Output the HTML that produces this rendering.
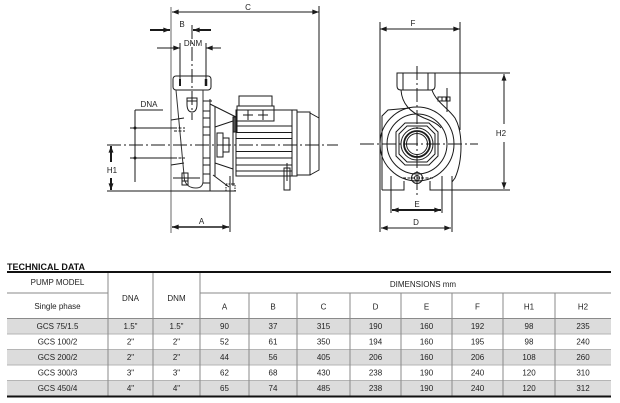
<!DOCTYPE html>
<html><head><meta charset="utf-8"><style>
html,body{margin:0;padding:0;background:#fff;width:620px;height:403px;overflow:hidden}
svg{display:block}
text{font-family:"Liberation Sans",Arial,sans-serif;font-size:8px;fill:#222}
</style></head><body>
<svg width="620" height="403" viewBox="0 0 620 403" xmlns="http://www.w3.org/2000/svg">
<defs>
<marker id="ar" viewBox="0 0 8 6" refX="8" refY="3" markerWidth="7" markerHeight="5" orient="auto-start-reverse" markerUnits="userSpaceOnUse"><path d="M0,0 L8,3 L0,6 z" fill="#1a1a1a"/></marker>
</defs>
<rect width="620" height="403" fill="#fff"/>

<!-- ================= LEFT VIEW ================= -->
<g stroke="#1a1a1a" stroke-width="1" fill="none">
  <!-- reference line -->
  <line x1="171" y1="7" x2="171" y2="233" stroke="#9a9a9a" stroke-width="1.5"/>
  <!-- C -->
  <line x1="172" y1="12" x2="319" y2="12" marker-start="url(#ar)" marker-end="url(#ar)"/>
  <line x1="319" y1="6" x2="319" y2="118"/>
  <!-- B -->
  <line x1="150" y1="30" x2="170" y2="30" stroke-width="2" marker-end="url(#ar)"/>
  <line x1="211" y1="30" x2="193" y2="30" stroke-width="2" marker-end="url(#ar)"/>
  <line x1="192" y1="25" x2="192" y2="120" stroke-dasharray="14 3 2 3"/>
  <!-- DNM -->
  <line x1="157" y1="48" x2="180" y2="48" marker-end="url(#ar)"/>
  <line x1="221" y1="48" x2="206" y2="48" marker-end="url(#ar)"/>
  <line x1="180" y1="43" x2="180" y2="84"/>
  <line x1="206" y1="43" x2="206" y2="84"/>
  <!-- outlet flange -->
  <rect x="173" y="76" width="38" height="14" rx="3"/>
  <line x1="180" y1="79" x2="180" y2="86" stroke-width="2"/>
  <line x1="206" y1="79" x2="206" y2="86" stroke-width="2.5"/>
  <!-- neck -->
  <path d="M176,90 L184.5,180 Q187,188 196,188 Q203,188 203,181 L203,90" stroke="#333"/>
  <!-- drain plug top -->
  <path d="M187,98 L197,98 L197,104 Q197,112 192,112 Q187,112 187,104 Z"/>
  <line x1="187" y1="101" x2="197" y2="101"/>
  <!-- ladder -->
  <line x1="210" y1="99" x2="210" y2="191"/>
  <line x1="203" y1="101" x2="212" y2="101"/>
  <line x1="203" y1="111" x2="210" y2="111"/>
  <line x1="203" y1="118" x2="210" y2="118"/>
  <line x1="203" y1="127" x2="210" y2="127"/>
  <line x1="203" y1="135" x2="210" y2="135"/>
  <line x1="203" y1="158" x2="210" y2="158"/>
  <line x1="203" y1="165" x2="210" y2="165"/>
  <line x1="203" y1="174" x2="210" y2="174"/>
  <line x1="203" y1="183" x2="210" y2="183"/>
  <!-- inlet flare -->
  <line x1="171" y1="120" x2="184" y2="118"/>
  <line x1="171" y1="165" x2="184" y2="163"/>
  <line x1="174" y1="128" x2="185" y2="128" stroke-dasharray="3 1.5"/>
  <line x1="174" y1="131" x2="185" y2="131" stroke-dasharray="3 1.5"/>
  <line x1="174" y1="158" x2="185" y2="158" stroke-dasharray="3 1.5"/>
  <!-- bolt bottom -->
  <rect x="182" y="173" width="6" height="12"/>
  <line x1="173" y1="178" x2="200" y2="178"/>
  <line x1="182" y1="181" x2="188" y2="181"/>
  <!-- bracket -->
  <line x1="210" y1="104" x2="236" y2="117"/>
  <line x1="215" y1="107" x2="215" y2="176"/>
  <line x1="215" y1="127" x2="233" y2="121"/>
  <line x1="215" y1="163" x2="233" y2="169"/>
  <rect x="217" y="133" width="6" height="24"/>
  <rect x="223" y="138" width="6" height="14"/>
  <line x1="213" y1="175" x2="229" y2="187"/>
  <line x1="233" y1="117" x2="233" y2="186"/>
  <rect x="233" y="117" width="4" height="15" fill="#555"/>
  <!-- motor terminal box -->
  <rect x="239" y="96" width="33" height="10"/>
  <rect x="237" y="106" width="37" height="15"/>
  <line x1="243" y1="115" x2="253" y2="115"/><line x1="248" y1="110" x2="248" y2="120"/>
  <line x1="258" y1="115" x2="268" y2="115"/><line x1="263" y1="110" x2="263" y2="120"/>
  <!-- motor body -->
  <rect x="236" y="110" width="56" height="66"/>
  <line x1="236" y1="126" x2="292" y2="126"/>
  <line x1="236" y1="132.5" x2="292" y2="132.5"/>
  <line x1="236" y1="138.5" x2="292" y2="138.5"/>
  <line x1="236" y1="151.5" x2="292" y2="151.5"/>
  <line x1="236" y1="158" x2="292" y2="158"/>
  <line x1="236" y1="165" x2="292" y2="165"/>
  <line x1="236" y1="171" x2="292" y2="171"/>
  <rect x="292" y="110" width="5" height="66"/>
  <rect x="297" y="112" width="13" height="63"/>
  <path d="M310,113 L319,118 L319,170 L310,175"/>
  <!-- motor foot -->
  <rect x="284" y="168" width="6" height="22"/>
  <line x1="287" y1="163" x2="287" y2="181"/>
  <line x1="278" y1="171" x2="292" y2="171" stroke-dasharray="1.5 1"/>
  <!-- center line -->
  <line x1="107" y1="145" x2="338" y2="145" stroke-dasharray="14 3 2 3"/>
  <!-- base line & foot -->
  <line x1="107" y1="191" x2="236" y2="191"/>
  <rect x="226" y="184" width="9" height="7" stroke-dasharray="1.5 1"/>
  <line x1="230" y1="176" x2="230" y2="232"/>
  <!-- A -->
  <line x1="172" y1="227" x2="229" y2="227" stroke-width="1.5" marker-start="url(#ar)" marker-end="url(#ar)"/>
  <!-- H1 -->
  <line x1="111" y1="146" x2="111" y2="162" stroke-width="2" marker-start="url(#ar)"/>
  <line x1="111" y1="178" x2="111" y2="190" stroke-width="2" marker-end="url(#ar)"/>
  <!-- DNA -->
  <line x1="135" y1="110" x2="135" y2="182"/>
  <line x1="135" y1="110" x2="163" y2="110"/>
  <line x1="130" y1="128" x2="174" y2="128"/>
  <line x1="130" y1="158" x2="174" y2="158"/>
  <circle cx="135" cy="128" r="1" fill="#1a1a1a"/>
  <circle cx="135" cy="158" r="1" fill="#1a1a1a"/>
</g>
<text x="248" y="10" text-anchor="middle">C</text>
<text x="182" y="27" text-anchor="middle">B</text>
<text x="193" y="46" text-anchor="middle">DNM</text>
<text x="149" y="107" text-anchor="middle">DNA</text>
<text x="112" y="173" text-anchor="middle">H1</text>
<text x="201.5" y="224" text-anchor="middle">A</text>

<!-- ================= RIGHT VIEW ================= -->
<g stroke="#1a1a1a" stroke-width="1" fill="none">
  <!-- F -->
  <line x1="380" y1="29" x2="460" y2="29" marker-start="url(#ar)" marker-end="url(#ar)"/>
  <line x1="380" y1="22" x2="380" y2="232"/>
  <line x1="460" y1="22" x2="460" y2="130"/>
  <!-- H2 -->
  <line x1="435" y1="73" x2="510" y2="73"/>
  <line x1="452" y1="190" x2="510" y2="190"/>
  <line x1="504" y1="74" x2="504" y2="124" marker-start="url(#ar)"/>
  <line x1="504" y1="142" x2="504" y2="189" marker-end="url(#ar)"/>
  <!-- E -->
  <line x1="391" y1="176" x2="391" y2="213"/>
  <line x1="442" y1="176" x2="442" y2="213"/>
  <line x1="392" y1="210" x2="441" y2="210" stroke-width="2" marker-start="url(#ar)" marker-end="url(#ar)"/>
  <!-- D -->
  <line x1="452" y1="185" x2="452" y2="232"/>
  <line x1="381" y1="228" x2="451" y2="228" marker-start="url(#ar)" marker-end="url(#ar)"/>
  <!-- center lines -->
  <line x1="360" y1="144" x2="478" y2="144" stroke-dasharray="14 3 2 3"/>
  <line x1="417" y1="66" x2="417" y2="196" stroke-dasharray="14 3 2 3"/>
  <!-- outlet -->
  <path d="M397,73 L435,73 L435,86 Q435,90 431,90 L401,90 Q397,90 397,86 Z"/>
  <line x1="403" y1="73" x2="403" y2="90"/>
  <line x1="428" y1="73" x2="428" y2="90"/>
  <!-- volute -->
  <path d="M432,90 C436,102 448,108 455,118 C463,132 463,160 455,178 L452,182"/>
  <path d="M401,90 C402,104 410,112 424,118 C432,121 438,124 441,128"/>
  <circle cx="417" cy="144" r="37"/>
  <circle cx="417" cy="144" r="30"/>
  <!-- back plate -->
  <path d="M382,190 L382,116 L388,110 L410,108"/>
  <!-- feet -->
  <path d="M382,190 L404,190 L404,181"/>
  <path d="M430,181 L430,190 L452,190 L452,176"/>
  <!-- hex -->
  <path d="M405,123 L429,123 L438,132 L438,156 L429,165 L405,165 L396,156 L396,132 Z"/>
  <path d="M407,126 L427,126 L435,134 L435,154 L427,162 L407,162 L399,154 L399,134 Z"/>
  <circle cx="417" cy="144" r="16"/>
  <circle cx="417" cy="144" r="13" stroke-width="1.8"/>
  <circle cx="417" cy="144" r="10.5"/>
  <!-- drain plug -->
  <circle cx="417" cy="178" r="5.5"/>
  <circle cx="417" cy="178" r="2.5"/>
  <line x1="403" y1="178" x2="433" y2="178" stroke-dasharray="3 1.5"/>
  <!-- top-right plug -->
  <rect x="438" y="97" width="12" height="4"/>
  <line x1="442" y1="97" x2="442" y2="101"/>
  <line x1="446" y1="97" x2="446" y2="101"/>
  <line x1="447" y1="88" x2="447" y2="112"/>
</g>
<text x="413" y="26" text-anchor="middle">F</text>
<text x="501" y="136" text-anchor="middle">H2</text>
<text x="417" y="207" text-anchor="middle">E</text>
<text x="416" y="225" text-anchor="middle">D</text>

<!-- ================= TABLE ================= -->
<text x="7" y="270" style="font-weight:bold;font-size:9px;fill:#111">TECHNICAL DATA</text>
<g>
  <rect x="7" y="318.5" width="604" height="15.5" fill="#dcdcdc"/>
  <rect x="7" y="349.5" width="604" height="15.5" fill="#dcdcdc"/>
  <rect x="7" y="380.5" width="604" height="15.5" fill="#dcdcdc"/>
</g>
<g stroke="#8a8a8a" stroke-width="1">
  <line x1="7" y1="293" x2="108" y2="293"/>
  <line x1="200" y1="293" x2="611" y2="293"/>
  <line x1="7" y1="318.5" x2="611" y2="318.5"/>
  <line x1="7" y1="334" x2="611" y2="334" stroke="#b5b5b5"/>
  <line x1="7" y1="349.5" x2="611" y2="349.5" stroke="#b5b5b5"/>
  <line x1="7" y1="365" x2="611" y2="365" stroke="#b5b5b5"/>
  <line x1="7" y1="380.5" x2="611" y2="380.5" stroke="#b5b5b5"/>
  <line x1="108" y1="272" x2="108" y2="396"/>
  <line x1="153" y1="272" x2="153" y2="396"/>
  <line x1="200" y1="272" x2="200" y2="396"/>
  <line x1="249" y1="293" x2="249" y2="396"/>
  <line x1="297" y1="293" x2="297" y2="396"/>
  <line x1="350" y1="293" x2="350" y2="396"/>
  <line x1="401" y1="293" x2="401" y2="396"/>
  <line x1="452" y1="293" x2="452" y2="396"/>
  <line x1="503" y1="293" x2="503" y2="396"/>
  <line x1="555" y1="293" x2="555" y2="396"/>
</g>
<line x1="7" y1="272" x2="611" y2="272" stroke="#111" stroke-width="2"/>
<line x1="7" y1="396.5" x2="611" y2="396.5" stroke="#111" stroke-width="2"/>

<g text-anchor="middle" style="fill:#333">
  <text x="57.5" y="285">PUMP MODEL</text>
  <text x="57.5" y="309">Single phase</text>
  <text x="130.5" y="301">DNA</text>
  <text x="176.5" y="301">DNM</text>
  <text x="423" y="287">DIMENSIONS mm</text>
  <text x="224.5" y="309.5">A</text>
  <text x="273" y="309.5">B</text>
  <text x="323.5" y="309.5">C</text>
  <text x="375.5" y="309.5">D</text>
  <text x="426.5" y="309.5">E</text>
  <text x="477.5" y="309.5">F</text>
  <text x="529" y="309.5">H1</text>
  <text x="583" y="309.5">H2</text>
</g>
<g text-anchor="middle" style="fill:#333">
  <text x="57.5" y="329">GCS 75/1.5</text><text x="130.5" y="329">1.5"</text><text x="176.5" y="329">1.5"</text>
  <text x="224.5" y="329">90</text><text x="273" y="329">37</text><text x="323.5" y="329">315</text><text x="375.5" y="329">190</text>
  <text x="426.5" y="329">160</text><text x="477.5" y="329">192</text><text x="529" y="329">98</text><text x="583" y="329">235</text>

  <text x="57.5" y="344.5">GCS 100/2</text><text x="130.5" y="344.5">2"</text><text x="176.5" y="344.5">2"</text>
  <text x="224.5" y="344.5">52</text><text x="273" y="344.5">61</text><text x="323.5" y="344.5">350</text><text x="375.5" y="344.5">194</text>
  <text x="426.5" y="344.5">160</text><text x="477.5" y="344.5">195</text><text x="529" y="344.5">98</text><text x="583" y="344.5">240</text>

  <text x="57.5" y="360">GCS 200/2</text><text x="130.5" y="360">2"</text><text x="176.5" y="360">2"</text>
  <text x="224.5" y="360">44</text><text x="273" y="360">56</text><text x="323.5" y="360">405</text><text x="375.5" y="360">206</text>
  <text x="426.5" y="360">160</text><text x="477.5" y="360">206</text><text x="529" y="360">108</text><text x="583" y="360">260</text>

  <text x="57.5" y="375.5">GCS 300/3</text><text x="130.5" y="375.5">3"</text><text x="176.5" y="375.5">3"</text>
  <text x="224.5" y="375.5">62</text><text x="273" y="375.5">68</text><text x="323.5" y="375.5">430</text><text x="375.5" y="375.5">238</text>
  <text x="426.5" y="375.5">190</text><text x="477.5" y="375.5">240</text><text x="529" y="375.5">120</text><text x="583" y="375.5">310</text>

  <text x="57.5" y="391">GCS 450/4</text><text x="130.5" y="391">4"</text><text x="176.5" y="391">4"</text>
  <text x="224.5" y="391">65</text><text x="273" y="391">74</text><text x="323.5" y="391">485</text><text x="375.5" y="391">238</text>
  <text x="426.5" y="391">190</text><text x="477.5" y="391">240</text><text x="529" y="391">120</text><text x="583" y="391">312</text>
</g>
</svg>
</body></html>
